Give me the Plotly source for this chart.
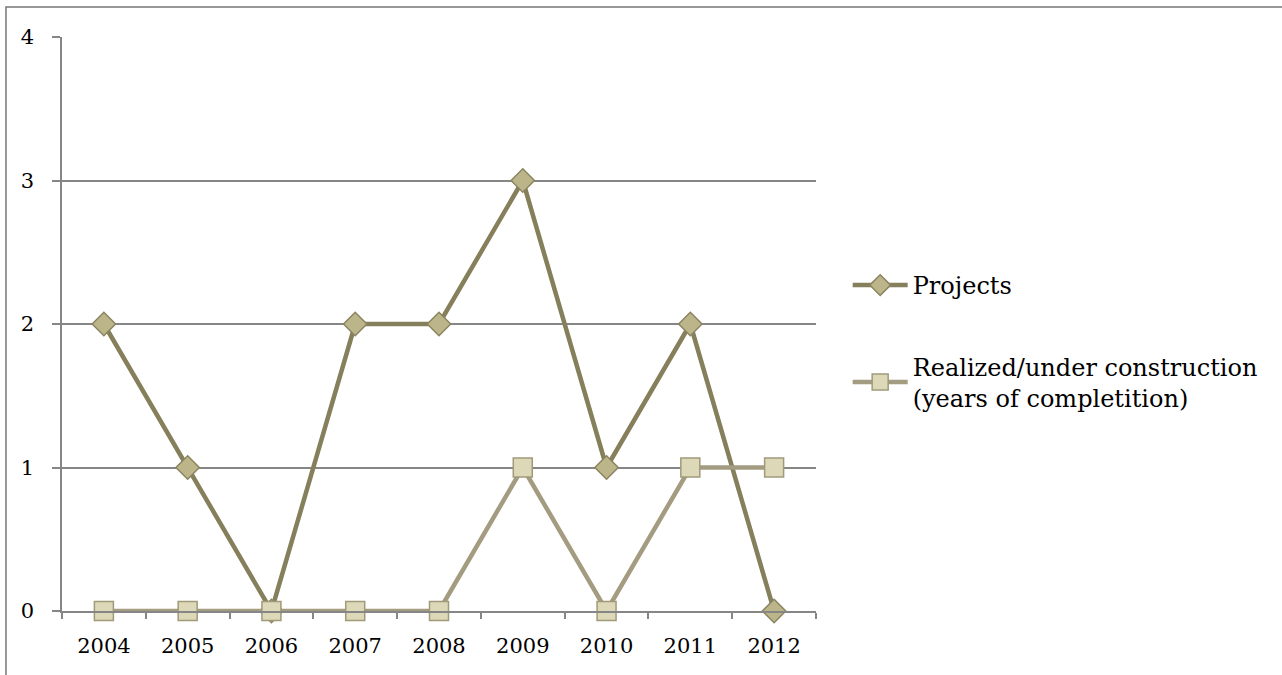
import plotly.graph_objects as go

years = ["2004", "2005", "2006", "2007", "2008", "2009", "2010", "2011", "2012"]
projects = [2, 1, 0, 2, 2, 3, 1, 2, 0]
realized = [0, 0, 0, 0, 0, 1, 0, 1, 1]
y_ticks = [0, 1, 2, 3, 4]

FONT = "DejaVu Serif"

fig = go.Figure()
fig.add_trace(go.Scatter(
    x=years, y=projects, mode="lines+markers", name="Projects",
    legendgroup="a", cliponaxis=False,
    line=dict(color="#857f5b", width=4.5),
    marker=dict(symbol="diamond", size=18, color="#bdb58a",
                line=dict(color="#8a8460", width=1.5)),
))
fig.add_trace(go.Scatter(
    x=years, y=realized, mode="lines+markers",
    name="Realized/under construction<br>(years of completition)",
    legendgroup="b", cliponaxis=False,
    line=dict(color="#a39c80", width=4.5),
    marker=dict(symbol="square", size=19, color="#ddd8b8",
                line=dict(color="#a09a7a", width=1.5)),
))

fig.update_layout(
    width=1282, height=675,
    margin=dict(l=62, r=466, t=37, b=64),
    paper_bgcolor="white", plot_bgcolor="white",
    font=dict(family=FONT, size=21, color="black"),
    showlegend=True,
    legend=dict(x=1.042, y=0.4695, xanchor="left", yanchor="middle",
                tracegroupgap=47, itemwidth=55,
                font=dict(family=FONT, size=24, color="black"),
                bgcolor="rgba(0,0,0,0)"),
    shapes=[dict(type="rect", xref="paper", yref="paper",
                 x0=-0.0743, x1=1.64, y0=-0.14, y1=1.0523,
                 line=dict(color="#777777", width=1.5), layer="below")],
)
fig.update_xaxes(
    type="category", range=[-0.5, 8.5],
    showgrid=False, showline=True, linecolor="#868686", linewidth=1.5,
    zeroline=False,
    ticks="outside", tickson="boundaries", ticklen=6, tickwidth=1.5,
    tickcolor="#868686", ticklabelstandoff=15,
)
fig.update_yaxes(
    range=[0, 4], tickvals=y_ticks, showgrid=True, gridcolor="#868686",
    gridwidth=1.5, showline=True, linecolor="#868686", linewidth=1.5,
    zeroline=False, ticks="outside", ticklen=8, tickwidth=1.5,
    tickcolor="#868686", ticklabelstandoff=14,
)

fig.write_html("out.html")
